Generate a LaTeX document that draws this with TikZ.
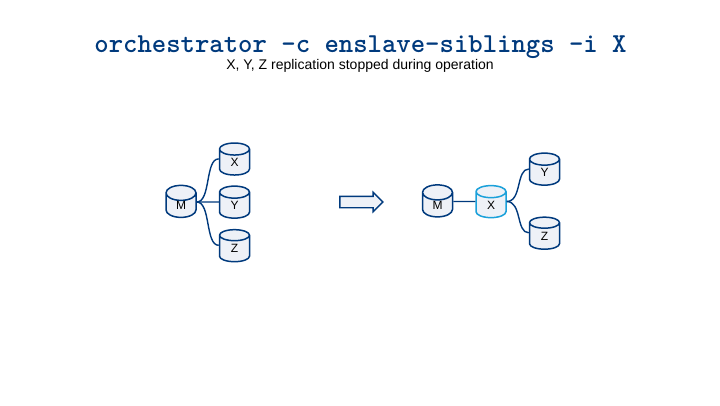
\documentclass[tikz,border=0pt]{standalone}
\usepackage{fontspec}
\setmainfont{Liberation Sans}
\usetikzlibrary{shapes.geometric,shapes.arrows}
\definecolor{dbblue}{HTML}{003A7D}
\definecolor{dbfill}{HTML}{EEF1F7}
\definecolor{dbcyan}{HTML}{1BA1DA}
\tikzset{
  x=1pt,y=-1pt,
  db/.style={cylinder,shape border rotate=90,aspect=1.5,draw=dbblue,line width=1.5pt,fill=dbfill,
    minimum width=30pt,minimum height=32pt,inner sep=0pt,font=\fontsize{12}{14}\selectfont,text=black},
  dbactive/.style={db,draw=dbcyan},
  link/.style={draw=dbblue,line width=1.4pt},
}
\begin{document}
\begin{tikzpicture}
\useasboundingbox (0,0) rectangle (720,405);
\fill[white] (0,0) rectangle (720,405);
\node[text=dbblue,font=\ttfamily\bfseries\fontsize{27.4}{30}\selectfont] (title) at (360.5,47) {orchestrator -c enslave-siblings -i X};
\node[text=black,font=\fontsize{14}{16}\selectfont] (sub) at (360,65.5) {X, Y, Z replication stopped during operation};
\node[db] (M1) at (181,205.5) {M};
\node[db] (X1) at (234.5,162.4) {X};
\node[db] (Y1) at (234.5,205.5) {Y};
\node[db] (Z1) at (234.5,248.8) {Z};
\draw[link] ([yshift=3.5pt]M1.east) .. controls (211,202) and (205,158.5) .. ([yshift=3.5pt]X1.west);
\draw[link] ([yshift=3.5pt]M1.east) -- ([yshift=3.5pt]Y1.west);
\draw[link] ([yshift=3.5pt]M1.east) .. controls (211,202) and (205,245.3) .. ([yshift=3.5pt]Z1.west);
\node[draw=dbblue,fill=dbfill,line width=1.4pt,single arrow,single arrow head extend=4pt,single arrow tip angle=90,
  minimum height=43pt,inner sep=5pt] (arrow) at (358.5,202) {};
\node[db] (M2) at (437.5,205) {M};
\node[dbactive] (X2) at (491,205) {X};
\node[db] (Y2) at (544.5,172.5) {Y};
\node[db] (Z2) at (544.5,236.3) {Z};
\draw[link] ([yshift=3.5pt]M2.east) -- ([yshift=3.5pt]X2.west);
\draw[link] ([yshift=3.5pt]X2.east) .. controls (522,201.5) and (516,169) .. ([yshift=3.5pt]Y2.west);
\draw[link] ([yshift=3.5pt]X2.east) .. controls (522,201.5) and (516,232.8) .. ([yshift=3.5pt]Z2.west);
\end{tikzpicture}
\end{document}
